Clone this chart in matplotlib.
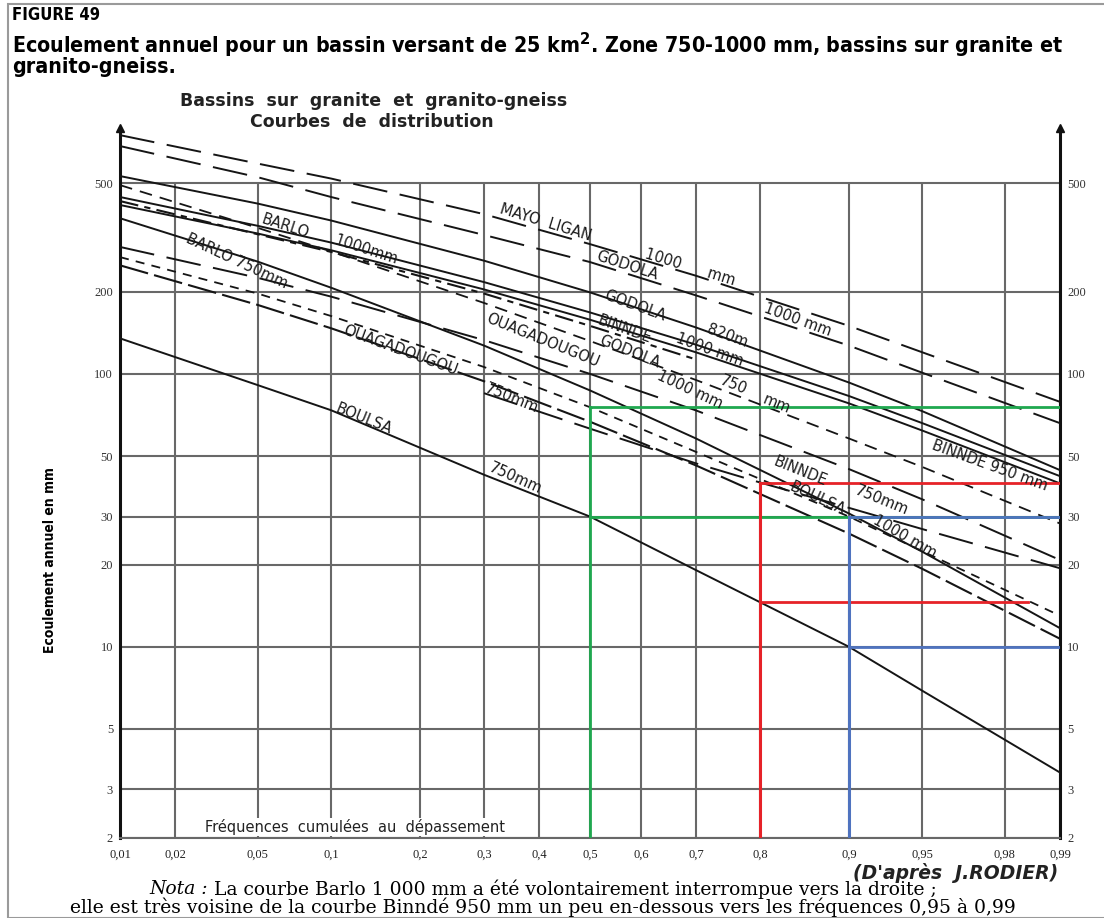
import numpy as np
import matplotlib
matplotlib.use("Agg")
import matplotlib.pyplot as plt
from matplotlib import font_manager
from matplotlib.ticker import NullLocator, FixedLocator, FixedFormatter
from statistics import NormalDist

W, H = 1104, 918

# ---------------- data ----------------
PROBS = [0.01, 0.05, 0.1, 0.3, 0.5, 0.7, 0.9, 0.95, 0.99]
PROBS_BARLO_1000 = [0.01, 0.05, 0.1, 0.3, 0.5, 0.7]
PROBS_BINNDE_750 = [0.3, 0.5, 0.7, 0.8, 0.9, 0.95, 0.99]

mayo_ligan_1000 = [750, 590, 520, 385, 299, 229, 150, 120, 79]
godola_1000 = [684, 526, 445, 323, 257, 194, 127, 101, 66]
godola_820 = [531, 421, 365, 260, 199, 148, 93, 73, 44.4]
binnde_1000 = [445, 349, 303, 217, 168, 128, 83, 66, 42.2]
godola_750 = [492, 343, 281, 182, 132, 95, 58, 45.6, 28.3]
barlo_1000 = [430, 325, 280, 197, 150, 113]
binnde_950 = [416, 327, 284, 204, 158, 120, 78, 62, 39.7]
ouaga_1000 = [292, 225, 192, 133, 100, 73.5, 44.8, 34.7, 20.8]
boulsa_1000 = [268, 197, 163, 106, 75.5, 51.8, 30, 22.4, 13.0]
ouaga_750 = [250, 179, 147, 94, 66.8, 46.2, 26, 19.3, 10.7]
barlo_750 = [372, 258, 207, 127, 87, 58, 30.8, 22.3, 11.7]
binnde_750 = [85, 63, 47, 40, 32.3, 27, 19.4]
boulsa_750 = [135, 91, 73.6, 42.7, 30, 19.1, 10, 6.9, 3.46]

X_TICKS = [0.01, 0.02, 0.05, 0.1, 0.2, 0.3, 0.4, 0.5, 0.6, 0.7, 0.8, 0.9, 0.95, 0.98, 0.99]
X_LABELS = ["0,01", "0,02", "0,05", "0,1", "0,2", "0,3", "0,4", "0,5", "0,6", "0,7",
            "0,8", "0,9", "0,95", "0,98", "0,99"]
Y_TICKS = [2, 3, 5, 10, 20, 30, 50, 100, 200, 500]
Y_LABELS = ["2", "3", "5", "10", "20", "30", "50", "100", "200", "500"]

# reading lines (frequency, runoff)
green_p, green_hi, green_lo = 0.5, 75.5, 30
red_p, red_hi, red_lo = 0.8, 40, 14.6
blue_p, blue_hi, blue_lo = 0.9, 30, 10

# ---------------- fonts ----------------
SANS = "DejaVu Sans"
SERIF = "DejaVu Serif"
TSERIF = "Liberation Serif"
cond = [f for f in font_manager.fontManager.ttflist
        if f.name == "DejaVu Sans" and f.stretch == "condensed" and f.weight in (700, "bold")]
STRETCH = "condensed" if cond else "normal"

ND = NormalDist()
_ppf = np.vectorize(ND.inv_cdf, otypes=[float])
_cdf = np.vectorize(ND.cdf, otypes=[float])


def fwd(p):
    p = np.clip(np.asarray(p, dtype=float), 1e-7, 1 - 1e-7)
    return _ppf(p)


def inv(z):
    return _cdf(np.asarray(z, dtype=float))


fig = plt.figure(figsize=(W / 100, H / 100), dpi=100)
ax = fig.add_axes([120 / W, 1 - 837.5 / H, 940 / W, 710 / H])
ax.set_xscale("function", functions=(fwd, inv))
ax.set_yscale("log")
ax.set_xlim(0.01, 0.99)
ax.set_ylim(2, 800)

GRID = "#686868"
ax.hlines(Y_TICKS, 0.01, 0.99, colors=GRID, lw=1.5, zorder=1)
ax.vlines(X_TICKS, 2, 500, colors=GRID, lw=1.5, zorder=1)

LD = (0, (18, 6.5))
SD = (0, (7, 4.5))
SD2 = (0, (5, 4))
K = "#151515"
curves = [
    (PROBS, mayo_ligan_1000, LD, 1.4),
    (PROBS, godola_1000, LD, 1.4),
    (PROBS, godola_820, "-", 1.4),
    (PROBS, binnde_1000, "-", 1.4),
    (PROBS, godola_750, SD, 1.3),
    (PROBS_BARLO_1000, barlo_1000, (0, (9, 3, 3, 3)), 1.5),
    (PROBS, binnde_950, "-", 1.4),
    (PROBS, ouaga_1000, LD, 1.4),
    (PROBS, boulsa_1000, SD2, 1.3),
    (PROBS, ouaga_750, (0, (14, 3)), 1.5),
    (PROBS, barlo_750, "-", 1.4),
    (PROBS_BINNDE_750, binnde_750, LD, 1.4),
    (PROBS, boulsa_750, "-", 1.4),
]
for px, vals, ls, lw in curves:
    ax.plot(px, vals, color=K, ls=ls, lw=lw, zorder=3)

# reading lines
GREEN, RED, BLUE = "#1fa84f", "#e62228", "#4f73bf"
ax.plot([green_p, green_p], [2, green_hi], color=GREEN, lw=2, zorder=4)
ax.plot([green_p, 0.99], [green_hi, green_hi], color=GREEN, lw=2, zorder=4)
ax.plot([green_p, 0.99], [green_lo, green_lo], color=GREEN, lw=2, zorder=4)
ax.plot([red_p, red_p], [2, red_hi], color=RED, lw=2.2, zorder=4)
ax.plot([red_p, 0.99], [red_hi, red_hi], color=RED, lw=2, zorder=4)
ax.plot([red_p, 0.985], [red_lo, red_lo], color=RED, lw=2, zorder=4)
ax.plot([blue_p, blue_p], [2, blue_hi], color=BLUE, lw=2.2, zorder=5)
ax.plot([blue_p, 0.99], [blue_hi, blue_hi], color=BLUE, lw=2, zorder=5)
ax.plot([blue_p, 0.99], [blue_lo, blue_lo], color=BLUE, lw=2, zorder=5)

# axes / spines
ax.spines["top"].set_visible(False)
ax.spines["bottom"].set_color(GRID)
ax.spines["bottom"].set_linewidth(1.5)
for s in ("left", "right"):
    ax.spines[s].set_color("#111111")
    ax.spines[s].set_linewidth(2.2)
ax.plot([0.01, 0.99], [800, 800], ls="none", marker="^", ms=6, color="#111111",
        clip_on=False, zorder=6)

ax.xaxis.set_major_locator(FixedLocator(X_TICKS))
ax.xaxis.set_major_formatter(FixedFormatter(X_LABELS))
ax.xaxis.set_minor_locator(NullLocator())
ax.yaxis.set_major_locator(FixedLocator(Y_TICKS))
ax.yaxis.set_major_formatter(FixedFormatter(Y_LABELS))
ax.yaxis.set_minor_locator(NullLocator())
ax.tick_params(axis="x", length=0, pad=8, labelsize=9, labelcolor="#222222")
ax.tick_params(axis="y", length=0, pad=5, labelsize=9, labelcolor="#333333",
               left=True, right=True, labelleft=True, labelright=True)
for t in ax.get_xticklabels() + ax.get_yticklabels():
    t.set_fontfamily(TSERIF)

# ---------------- texts ----------------
def ftext(x, y, s, **kw):
    fig.text(x / W, 1 - y / H, s, **kw)


ftext(12, 15, "FIGURE 49", fontsize=12, weight="bold", family=SANS, stretch=STRETCH,
      va="center")
ftext(12, 31, "Ecoulement annuel pour un bassin versant de 25 km$^\\mathbf{2}$. Zone 750-1000 mm, "
      "bassins sur granite et\ngranito-gneiss.", fontsize=15.3, weight="bold", family=SANS,
      stretch=STRETCH, va="top", linespacing=0.8)
ftext(374, 101, "Bassins  sur  granite  et  granito-gneiss", fontsize=12.5, weight="bold",
      family=SANS, ha="center", va="center", color="#222222")
ftext(372, 122, "Courbes  de  distribution", fontsize=12.5, weight="bold",
      family=SANS, ha="center", va="center", color="#222222")
ftext(50, 560, "Ecoulement annuel en mm", fontsize=10, weight="bold", family=SANS,
      stretch=STRETCH, rotation=90, ha="center", va="center")
ftext(355, 827, "Fréquences  cumulées  au  dépassement", fontsize=10.5, family=SANS,
      ha="center", va="center", color="#222222",
      bbox=dict(facecolor="white", edgecolor="none", pad=1))
ftext(1058, 873, "(D'après  J.RODIER)", fontsize=13.5, weight="bold", style="italic",
      family=SANS, ha="right", va="center", color="#222222")
ftext(208, 889, "Nota :", fontsize=13.5, style="italic", family=SERIF, ha="right",
      va="center")
ftext(214, 889, "La courbe Barlo 1 000 mm a été volontairement interrompue vers la droite ;",
      fontsize=13.5, family=SERIF, ha="left", va="center")
ftext(543, 907, "elle est très voisine de la courbe Binndé 950 mm un peu en-dessous vers les "
      "fréquences 0,95 à 0,99", fontsize=13.5, family=SERIF, ha="center", va="center")

# curve labels (text, x px, y px, rotation)
LABELS = [
    ("MAYO  LIGAN", 546, 223, -17),
    ("1000      mm", 690, 267, -17),
    ("GODOLA", 627, 266, -18),
    ("1000 mm", 798, 320, -20),
    ("GODOLA", 635, 306, -20),
    ("820m", 727, 336, -20),
    ("BINNDE", 625, 329, -20),
    ("1000 mm", 710, 350, -20),
    ("GODOLA", 630, 352, -22),
    ("750", 733, 385, -22),
    ("mm", 777, 404, -22),
    ("OUAGADOUGOU", 543, 340, -22),
    ("1000 mm", 690, 390, -25),
    ("BARLO", 285, 226, -18),
    ("1000mm", 366, 250, -18),
    ("BARLO 750mm", 237, 261, -25),
    ("OUAGADOUGOU", 400, 350, -20),
    ("750mm", 512, 398, -22),
    ("BOULSA", 364, 419, -22),
    ("750mm", 515, 478, -24),
    ("BINNDE", 800, 471, -22),
    ("750mm", 882, 500, -22),
    ("BOULSA", 817, 498, -25),
    ("1000 mm", 905, 537, -30),
    ("BINNDE 950 mm", 990, 466, -20),
]
for s, x, y, r in LABELS:
    ftext(x, y, s, fontsize=10.5, family=SANS, rotation=r, ha="center", va="center",
          rotation_mode="anchor", color="#1a1a1a")

# page border
fig.add_artist(plt.Rectangle((8 / W, 0), 1100 / W, 1 - 4 / H, transform=fig.transFigure,
                             fill=False, edgecolor="#9a9a9a", lw=1.5))

fig.savefig("out.png", dpi=100)
